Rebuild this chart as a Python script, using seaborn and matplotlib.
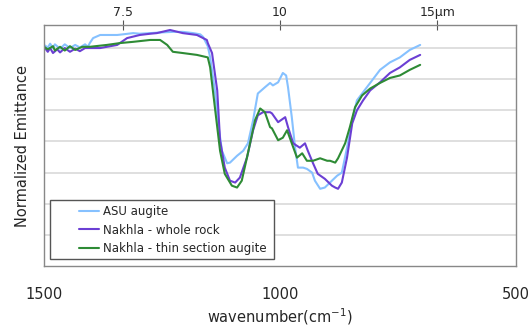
import numpy as np
import pandas as pd
import seaborn as sns
import matplotlib.pyplot as plt
from matplotlib.patches import Rectangle

# wavenumber (cm-1) and normalized emittance
asu_wn = [1500, 1492, 1487, 1481, 1477, 1466, 1456, 1445, 1434, 1424, 1413, 1407, 1403,
          1396, 1381, 1367, 1345, 1333, 1311, 1297, 1275, 1254, 1227, 1206, 1184, 1169,
          1163, 1153, 1148, 1138, 1131, 1123, 1112, 1106, 1091, 1078, 1068, 1057, 1047,
          1032, 1021, 1015, 1004, 994, 987, 983, 975, 968, 962, 951, 943, 932, 926, 915,
          905, 890, 879, 869, 858, 847, 837, 824, 809, 788, 767, 746, 725, 703]
asu_em = [0.955, 0.951, 0.957, 0.950, 0.956, 0.949, 0.956, 0.950, 0.955, 0.951, 0.956, 0.952, 0.958,
          0.966, 0.971, 0.971, 0.971, 0.972, 0.974, 0.973, 0.974, 0.975, 0.976, 0.976, 0.974, 0.972,
          0.968, 0.953, 0.935, 0.882, 0.829, 0.785, 0.765, 0.766, 0.777, 0.785, 0.797, 0.834, 0.877,
          0.887, 0.894, 0.890, 0.895, 0.910, 0.906, 0.887, 0.839, 0.790, 0.758, 0.758, 0.756, 0.750,
          0.737, 0.724, 0.726, 0.737, 0.745, 0.750, 0.790, 0.834, 0.866, 0.879, 0.894, 0.915,
          0.927, 0.935, 0.947, 0.955]

rock_wn = [1500, 1492, 1487, 1481, 1472, 1466, 1456, 1445, 1434, 1424, 1413, 1403, 1381,
           1367, 1345, 1324, 1297, 1275, 1261, 1233, 1206, 1176, 1155, 1153, 1144, 1133,
           1127, 1117, 1106, 1095, 1085, 1070, 1057, 1047, 1036, 1021, 1017, 1004, 989,
           983, 972, 958, 947, 941, 930, 920, 905, 890, 883, 877, 869, 858, 847, 837, 824,
           809, 788, 767, 746, 725, 703]
rock_em = [0.952, 0.944, 0.950, 0.942, 0.948, 0.943, 0.950, 0.944, 0.949, 0.945, 0.950, 0.950, 0.950,
           0.952, 0.955, 0.966, 0.971, 0.973, 0.974, 0.979, 0.974, 0.971, 0.963, 0.958, 0.942, 0.882,
           0.802, 0.758, 0.737, 0.734, 0.742, 0.774, 0.818, 0.842, 0.847, 0.847, 0.845, 0.831, 0.839,
           0.823, 0.797, 0.790, 0.797, 0.785, 0.765, 0.748, 0.740, 0.729, 0.726, 0.724, 0.734, 0.774,
           0.829, 0.850, 0.866, 0.882, 0.895, 0.910, 0.919, 0.931, 0.939]

thin_wn = [1500, 1492, 1481, 1477, 1466, 1456, 1445, 1434, 1419, 1403, 1367, 1339, 1311,
           1275, 1254, 1239, 1227, 1206, 1176, 1153, 1148, 1138, 1127, 1117, 1102, 1091,
           1081, 1068, 1053, 1042, 1032, 1021, 1017, 1004, 994, 985, 975, 964, 953, 943,
           930, 915, 900, 894, 883, 877, 862, 852, 841, 826, 809, 788, 767, 746, 725, 703]
thin_em = [0.952, 0.948, 0.953, 0.946, 0.952, 0.946, 0.953, 0.947, 0.952, 0.952, 0.955, 0.958, 0.960,
           0.963, 0.963, 0.955, 0.944, 0.942, 0.939, 0.935, 0.919, 0.855, 0.785, 0.748, 0.729, 0.726,
           0.737, 0.781, 0.834, 0.853, 0.847, 0.823, 0.821, 0.802, 0.806, 0.818, 0.797, 0.774, 0.781,
           0.769, 0.769, 0.773, 0.769, 0.769, 0.766, 0.773, 0.797, 0.823, 0.855, 0.874, 0.885, 0.894,
           0.902, 0.906, 0.915, 0.923]

names = ['ASU augite', 'Nakhla - whole rock', 'Nakhla - thin section augite']
colors = ['#86c1ff', '#6b3fd4', '#2e8b35']

df = pd.concat([
    pd.DataFrame({'wn': asu_wn, 'em': asu_em, 'Sample': names[0]}),
    pd.DataFrame({'wn': rock_wn, 'em': rock_em, 'Sample': names[1]}),
    pd.DataFrame({'wn': thin_wn, 'em': thin_em, 'Sample': names[2]}),
], ignore_index=True)

sns.set_style('white')
plt.rcParams['font.family'] = ['DejaVu Sans']

fig = plt.figure(figsize=(5.29, 3.30), dpi=100)
ax = fig.add_axes([0.0832, 0.1939, 0.8922, 0.7303])

for y in np.arange(0.65, 0.96, 0.05):
    ax.axhline(y, color='#d9d9d9', lw=1.2, zorder=0)

sns.lineplot(data=df, x='wn', y='em', hue='Sample', palette=dict(zip(names, colors)),
             estimator=None, sort=True, lw=1.5, ax=ax, legend=False)

ax.set_xlim(1500, 500)
ax.set_ylim(0.6, 0.987)
ax.set_yticks([])
ax.set_xticks([1500, 1000, 500])
ax.set_xticklabels(['1500', '1000', '500'], fontsize=10.5)
ax.tick_params(axis='x', direction='out', length=5, pad=10, color='#999999')
for s in ax.spines.values():
    s.set_color('#888888')
    s.set_linewidth(1.0)

ax.set_xlabel('wavenumber(cm$^{-1}$)', fontsize=10.5, labelpad=3)
ax.set_ylabel('Normalized Emittance', fontsize=10.5, labelpad=10)

top = ax.secondary_xaxis('top', functions=(lambda x: 10000.0 / np.maximum(x, 1e-6),
                                           lambda x: 10000.0 / np.maximum(x, 1e-6)))
top.set_xticks([7.5, 10, 15])
top.set_xticklabels(['7.5', '10', '15\u03bcm'], fontsize=9)
top.tick_params(direction='inout', length=7, pad=1, color='#555555')
top.spines['top'].set_visible(False)

# legend with its own frame
ax.add_patch(Rectangle((0.0127, 0.029), 0.475, 0.245, transform=ax.transAxes,
                       fill=True, facecolor='white', edgecolor='#555555', lw=1.0, zorder=3))
handles = [plt.Line2D([], [], color=c, lw=1.5) for c in colors]
leg = ax.legend(handles, names, loc='center left', bbox_to_anchor=(0.074, 0.149),
                frameon=False, fontsize=8.5, handlelength=1.7, handletextpad=0.3,
                labelspacing=0.45, borderpad=0, borderaxespad=0)
leg.set_zorder(4)

fig.savefig('out.png', dpi=100)
